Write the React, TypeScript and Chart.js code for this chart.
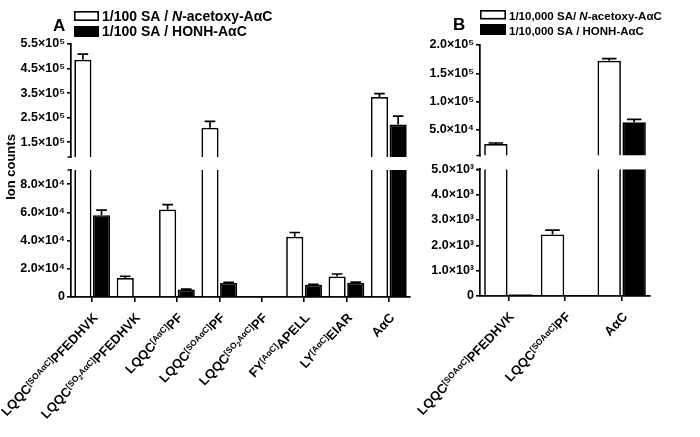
import React, { useEffect, useRef } from 'react';
import { Chart, registerables } from 'chart.js';

Chart.register(...registerables);

const FONT = "'Liberation Sans', Arial, Helvetica, sans-serif";

// ---------------- Panel A data ----------------
const CATEGORIES_A = [
  'LQQC[SOAαC]PFEDHVK',
  'LQQC[SO2AαC]PFEDHVK',
  'LQQC[AαC]PF',
  'LQQC[SOAαC]PF',
  'LQQC[SO2AαC]PF',
  'FY[AαC]APELL',
  'LY[AαC]EIAR',
  'AαC',
];
const A_ACETOXY = [486000, 13500, 62000, 209000, 0, 42700, 14500, 334000];
const A_ACETOXY_ERR = [23000, 1200, 3500, 26000, 0, 3000, 1800, 14000];
const A_HONH = [58000, 500, 5300, 10000, 0, 8600, 10000, 222000];
const A_HONH_ERR = [3500, 0, 300, 400, 0, 400, 500, 34000];
const A_LOWER_TICKS = [0, 20000, 40000, 60000, 80000];
const A_UPPER_TICKS = [150000, 250000, 350000, 450000, 550000];
const A_LOWER_RANGE = [0, 90000];
const A_UPPER_RANGE = [90000, 550000];
const A_LEGEND = ['1/100 SA / _N_-acetoxy-AαC', '1/100 SA / HONH-AαC'];

// ---------------- Panel B data ----------------
const CATEGORIES_B = ['LQQC[SOAαC]PFEDHVK', 'LQQC[SOAαC]PF', 'AαC'];
const B_ACETOXY = [25300, 2430, 172000];
const B_ACETOXY_ERR = [1800, 170, 4000];
const B_HONH = [70, 30, 63600];
const B_HONH_ERR = [0, 0, 5000];
const B_LOWER_TICKS = [0, 1000, 2000, 3000, 4000, 5000];
const B_UPPER_TICKS = [50000, 100000, 150000, 200000];
const B_LOWER_RANGE = [0, 5000];
const B_UPPER_RANGE = [5000, 200000];
const B_LEGEND = ['1/10,000 SA/ _N_-acetoxy-AαC', '1/10,000 SA / HONH-AαC'];

const Y_TITLE = 'Ion counts';

const TICK_SIZE = 12.5;
const LABEL_SIZE = 13;
const LABEL_ANGLE = (47 * Math.PI) / 180;

type PanelCfg = {
  letter: string;
  cats: string[];
  white: number[];
  whiteErr: number[];
  black: number[];
  blackErr: number[];
  lowerTicks: number[];
  upperTicks: number[];
  lowerRange: number[];
  upperRange: number[];
  legend: string[];
  showTitle: boolean;
  left: number;
  width: number;
  axisWidth: number;
  padTop: number;
  padRight: number;
  padBottom: number;
  upperWeight: number;
  gapWeight: number;
  lowerWeight: number;
  barPct: number;
  catPct: number;
  legendX: number;
  legendBoxW: number;
  legendBoxes: number[][];
  legendBaselines: number[];
  legendSize: number;
  letterX: number;
  letterBase: number;
};

const PANEL_A: PanelCfg = {
  letter: 'A',
  cats: CATEGORIES_A,
  white: A_ACETOXY,
  whiteErr: A_ACETOXY_ERR,
  black: A_HONH,
  blackErr: A_HONH_ERR,
  lowerTicks: A_LOWER_TICKS,
  upperTicks: A_UPPER_TICKS,
  lowerRange: A_LOWER_RANGE,
  upperRange: A_UPPER_RANGE,
  legend: A_LEGEND,
  showTitle: true,
  left: 0,
  width: 418,
  axisWidth: 71,
  padTop: 44,
  padRight: 8,
  padBottom: 130,
  upperWeight: 113,
  gapWeight: 13,
  lowerWeight: 127,
  barPct: 0.92,
  catPct: 0.88,
  legendX: 74,
  legendBoxW: 25,
  legendBoxes: [[11, 10], [26, 11]],
  legendBaselines: [21, 36],
  legendSize: 14,
  letterX: 53,
  letterBase: 31,
};

const PANEL_B: PanelCfg = {
  letter: 'B',
  cats: CATEGORIES_B,
  white: B_ACETOXY,
  whiteErr: B_ACETOXY_ERR,
  black: B_HONH,
  blackErr: B_HONH_ERR,
  lowerTicks: B_LOWER_TICKS,
  upperTicks: B_UPPER_TICKS,
  lowerRange: B_LOWER_RANGE,
  upperRange: B_UPPER_RANGE,
  legend: B_LEGEND,
  showTitle: false,
  left: 380,
  width: 320,
  axisWidth: 100,
  padTop: 45,
  padRight: 50,
  padBottom: 131,
  upperWeight: 110.5,
  gapWeight: 13.8,
  lowerWeight: 126.7,
  barPct: 0.94,
  catPct: 0.88,
  legendX: 100,
  legendBoxW: 26,
  legendBoxes: [[10, 9.5], [24, 11]],
  legendBaselines: [19.5, 34.5],
  legendSize: 11.5,
  letterX: 73,
  letterBase: 29.5,
};

const SUPS: Record<string, string> = {
  '0': '⁰', '1': '¹', '2': '²', '3': '³', '4': '⁴', '5': '⁵', '6': '⁶', '7': '⁷', '8': '⁸', '9': '⁹',
};

function fmtTick(v: number): string {
  if (v === 0) return '0';
  const e = Math.floor(Math.log10(v) + 1e-9);
  const m = v / Math.pow(10, e);
  return m.toFixed(1) + '×10' + String(e).split('').map((d) => SUPS[d]).join('');
}

type Seg = { t: string; kind: 'main' | 'sup' | 'subsup' | 'italic' };

function parseCategory(label: string): Seg[] {
  const segs: Seg[] = [];
  const re = /\[([^\]]*)\]/g;
  let last = 0;
  let m: RegExpExecArray | null;
  while ((m = re.exec(label))) {
    if (m.index > last) segs.push({ t: label.slice(last, m.index), kind: 'main' });
    const inner = '[' + m[1] + ']';
    inner.split(/(\d)/).forEach((p) => {
      if (p) segs.push({ t: p, kind: /^\d$/.test(p) ? 'subsup' : 'sup' });
    });
    last = re.lastIndex;
  }
  if (last < label.length) segs.push({ t: label.slice(last), kind: 'main' });
  return segs;
}

function parseLegend(s: string): Seg[] {
  return s
    .split(/_([^_]+)_/)
    .map((p, i) => ({ t: p, kind: (i % 2 ? 'italic' : 'main') as Seg['kind'] }))
    .filter((x) => x.t.length > 0);
}

function segFont(kind: Seg['kind'], size: number): string {
  if (kind === 'sup') return `bold ${size * 0.65}px ${FONT}`;
  if (kind === 'subsup') return `bold ${size * 0.52}px ${FONT}`;
  if (kind === 'italic') return `italic bold ${size}px ${FONT}`;
  return `bold ${size}px ${FONT}`;
}

function segDy(kind: Seg['kind'], size: number): number {
  if (kind === 'sup') return -size * 0.3;
  if (kind === 'subsup') return -size * 0.1;
  return 0;
}

function measureSegs(ctx: CanvasRenderingContext2D, segs: Seg[], size: number): number {
  let w = 0;
  for (const s of segs) {
    ctx.font = segFont(s.kind, size);
    w += ctx.measureText(s.t).width;
  }
  return w;
}

function drawSegs(ctx: CanvasRenderingContext2D, segs: Seg[], x: number, y: number, size: number) {
  let cx = x;
  ctx.textAlign = 'left';
  ctx.textBaseline = 'alphabetic';
  for (const s of segs) {
    ctx.font = segFont(s.kind, size);
    ctx.fillText(s.t, cx, y + segDy(s.kind, size));
    cx += ctx.measureText(s.t).width;
  }
}

function makeDecor(p: PanelCfg) {
  return {
    id: 'decor' + p.letter,
    beforeDatasetDraw(chart: any, args: any) {
      const ys = args.meta.yScale;
      const ctx = chart.ctx as CanvasRenderingContext2D;
      ctx.save();
      ctx.beginPath();
      ctx.rect(0, ys.top, chart.width, ys.bottom - ys.top);
      ctx.clip();
    },
    afterDatasetDraw(chart: any) {
      chart.ctx.restore();
    },
    afterDatasetsDraw(chart: any) {
      const ctx = chart.ctx as CanvasRenderingContext2D;
      const series = [
        { meta: chart.getDatasetMeta(0), data: p.white, err: p.whiteErr },
        { meta: chart.getDatasetMeta(1), data: p.black, err: p.blackErr },
      ];
      for (const sc of [chart.scales.yLow, chart.scales.yUp]) {
        ctx.save();
        ctx.beginPath();
        ctx.rect(0, sc.top - 1, chart.width, sc.bottom - sc.top + 1);
        ctx.clip();
        ctx.strokeStyle = '#000';
        ctx.lineWidth = 1.7;
        for (const s of series) {
          s.meta.data.forEach((bar: any, i: number) => {
            const e = s.err[i];
            if (!e) return;
            const { x, width } = bar.getProps(['x', 'width'], true);
            const y0 = sc.getPixelForValue(s.data[i]);
            const y1 = sc.getPixelForValue(s.data[i] + e);
            const cap = width * 0.62;
            ctx.beginPath();
            ctx.moveTo(x, y0);
            ctx.lineTo(x, y1);
            ctx.moveTo(x - cap / 2, y1);
            ctx.lineTo(x + cap / 2, y1);
            ctx.stroke();
          });
        }
        ctx.restore();
      }
    },
    afterDraw(chart: any) {
      const ctx = chart.ctx as CanvasRenderingContext2D;
      const xs = chart.scales.x;
      const yUp = chart.scales.yUp;
      const yLow = chart.scales.yLow;
      const ax = chart.chartArea.left;
      ctx.save();
      ctx.fillStyle = '#000';
      ctx.strokeStyle = '#000';

      // axis break feet
      ctx.lineWidth = 1.6;
      ctx.beginPath();
      ctx.moveTo(ax - 3.5, yUp.bottom);
      ctx.lineTo(ax + 0.8, yUp.bottom);
      ctx.moveTo(ax - 3.5, yLow.top);
      ctx.lineTo(ax + 0.8, yLow.top);
      ctx.stroke();

      // category labels (rotated)
      p.cats.forEach((c, i) => {
        const x = xs.getPixelForValue(i);
        const segs = parseCategory(c);
        ctx.save();
        ctx.translate(x + 3, xs.top + 18);
        ctx.rotate(-LABEL_ANGLE);
        const w = measureSegs(ctx, segs, LABEL_SIZE);
        drawSegs(ctx, segs, -w, LABEL_SIZE * 0.36, LABEL_SIZE);
        ctx.restore();
      });

      // legend
      p.legend.forEach((txt, i) => {
        const [by, bh] = p.legendBoxes[i];
        if (i === 0) {
          ctx.fillStyle = '#fff';
          ctx.fillRect(p.legendX, by, p.legendBoxW, bh);
          ctx.lineWidth = 1.6;
          ctx.strokeRect(p.legendX + 0.8, by + 0.8, p.legendBoxW - 1.6, bh - 1.6);
        } else {
          ctx.fillStyle = '#000';
          ctx.fillRect(p.legendX, by, p.legendBoxW, bh);
        }
        ctx.fillStyle = '#000';
        drawSegs(ctx, parseLegend(txt), p.legendX + p.legendBoxW + 3, p.legendBaselines[i], p.legendSize);
      });

      // panel letter
      ctx.font = `bold 17px ${FONT}`;
      ctx.textAlign = 'left';
      ctx.textBaseline = 'alphabetic';
      ctx.fillText(p.letter, p.letterX, p.letterBase);

      // y title
      if (p.showTitle) {
        ctx.save();
        ctx.translate(11, 167);
        ctx.rotate(-Math.PI / 2);
        ctx.font = `bold 13px ${FONT}`;
        ctx.textAlign = 'center';
        ctx.textBaseline = 'middle';
        ctx.fillText(Y_TITLE, 0, 0);
        ctx.restore();
      }
      ctx.restore();
    },
  };
}

function buildChart(canvas: HTMLCanvasElement, p: PanelCfg) {
  const yAxis = (range: number[], ticks: number[], weight: number, stackWeight: number) => ({
    type: 'linear',
    position: 'left',
    stack: 'v',
    stackWeight,
    weight,
    stacked: false,
    min: range[0],
    max: range[1],
    afterBuildTicks: (s: any) => {
      s.ticks = ticks.map((v) => ({ value: v }));
    },
    afterFit: (s: any) => {
      s.width = p.axisWidth;
    },
    ticks: {
      color: '#000',
      autoSkip: false,
      font: { family: FONT, size: TICK_SIZE, weight: 'bold' },
      padding: 2,
      callback: (v: any) => fmtTick(Number(v)),
    },
    grid: { display: true, drawOnChartArea: false, drawTicks: true, tickLength: 4, color: '#000', lineWidth: 1.6 },
    border: { display: true, color: '#000', width: 1.7 },
  });
  const bar = (data: number[], axis: string, stack: string, fill: string) => ({
    type: 'bar',
    data,
    yAxisID: axis,
    stack,
    backgroundColor: fill,
    borderColor: '#000',
    borderWidth: 1.7,
    borderSkipped: 'start',
    clip: 0,
    barPercentage: p.barPct,
    categoryPercentage: p.catPct,
  });
  return new Chart(canvas, {
    type: 'bar',
    data: {
      labels: p.cats,
      datasets: [
        bar(p.white, 'yLow', 'w', '#fff'),
        bar(p.black, 'yLow', 'b', '#000'),
        bar(p.white, 'yUp', 'w', '#fff'),
        bar(p.black, 'yUp', 'b', '#000'),
      ] as any,
    },
    options: {
      responsive: false,
      maintainAspectRatio: false,
      animation: false,
      events: [],
      layout: { padding: { left: 0, right: p.padRight, top: p.padTop, bottom: p.padBottom } },
      plugins: { legend: { display: false }, tooltip: { enabled: false } },
      scales: {
        x: {
          type: 'category',
          offset: true,
          afterFit: (s: any) => {
            s.height = 10;
          },
          ticks: { display: false },
          grid: { display: true, drawOnChartArea: false, drawTicks: true, tickLength: 5, offset: false, color: '#000', lineWidth: 1.6 },
          border: { display: true, color: '#000', width: 1.7 },
        },
        yUp: yAxis(p.upperRange, p.upperTicks, 3, p.upperWeight),
        yGap: {
          type: 'linear',
          position: 'left',
          stack: 'v',
          stackWeight: p.gapWeight,
          weight: 2,
          min: 0,
          max: 1,
          afterFit: (s: any) => {
            s.width = p.axisWidth;
          },
          ticks: { display: false },
          grid: { display: false },
          border: { display: false },
        },
        yLow: yAxis(p.lowerRange, p.lowerTicks, 1, p.lowerWeight),
      } as any,
    },
    plugins: [makeDecor(p) as any],
  });
}

function PanelCanvas({ p }: { p: PanelCfg }) {
  const ref = useRef<HTMLCanvasElement | null>(null);
  useEffect(() => {
    if (!ref.current) return;
    const chart = buildChart(ref.current, p);
    return () => chart.destroy();
  }, [p]);
  return (
    <canvas
      ref={ref}
      width={p.width}
      height={437}
      style={{ position: 'absolute', left: p.left, top: 0, width: p.width, height: 437 }}
    />
  );
}

export default function App() {
  return (
    <div style={{ position: 'absolute', left: 0, top: 0, width: 700, height: 437, background: '#fff', overflow: 'hidden' }}>
      <PanelCanvas p={PANEL_A} />
      <PanelCanvas p={PANEL_B} />
    </div>
  );
}
